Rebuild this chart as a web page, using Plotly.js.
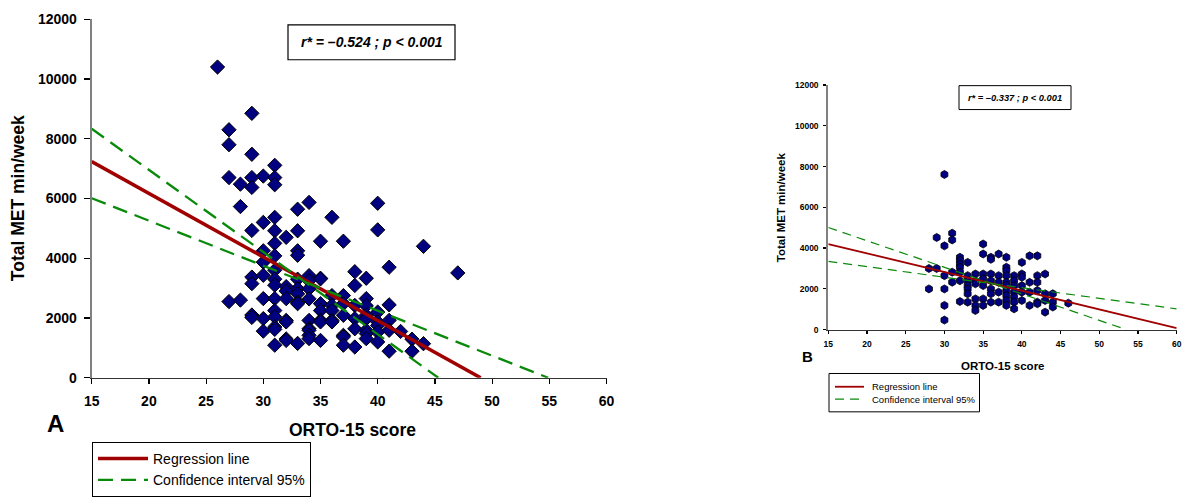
<!DOCTYPE html>
<html>
<head>
<meta charset="utf-8">
<script src="https://cdn.plot.ly/plotly-3.0.1.min.js"></script>
<style>html,body{margin:0;padding:0;background:#fff;}#chart{width:1184px;height:497px;}</style>
</head>
<body>
<div id="chart"></div>
<script>
// ---------- Panel A data (ORTO-15 score vs Total MET min/week) ----------
const scoresA = [26, 27, 28, 29, 30, 31, 32, 33, 34, 35, 36, 37, 38, 39, 40, 41, 42, 43, 44, 47];
const metA = [
  [10400],
  [8300, 7800, 6700, 2550],
  [6480, 5730, 2600],
  [8850, 7480, 6700, 6370, 4930, 3370, 3150, 2100, 2020],
  [6750, 5200, 4250, 3870, 3430, 2650, 1980, 1560],
  [7110, 6700, 6460, 5370, 4920, 4500, 4080, 3600, 3300, 3100, 2650, 2250, 2040, 1700, 1620, 1090],
  [4700, 3050, 2900, 2650, 1920, 1870, 1300, 1250],
  [5640, 4920, 4250, 4100, 3300, 2980, 2810, 2530, 2480, 1150],
  [5870, 3420, 3250, 2980, 2640, 1920, 1640, 1590, 1420, 1310],
  [4570, 3330, 3310, 2480, 2250, 1920, 1870, 1250],
  [5370, 2750, 2420, 2250, 1920, 1870],
  [4570, 2750, 2480, 2090, 1420, 1370, 1090],
  [3550, 3090, 2420, 1980, 1640, 1030],
  [3330, 2650, 2410, 2090, 1980, 1590, 1480, 1310],
  [5840, 4950, 2200, 1870, 1750, 1530, 1200],
  [3700, 2440, 1920, 1590, 890],
  [1550],
  [1290, 890],
  [4400, 1140],
  [3510]
];
const regA_x = [15, 49], regA_y = [7233, 0];
const ciA1_x = [15, 45.3], ciA1_y = [8333, 0];
const ciA2_x = [15, 54.9], ciA2_y = [6010, 0];

// ---------- Panel B data ----------
const scoresB = [28, 29, 30, 31, 32, 33, 34, 35, 36, 37, 38, 39, 40, 41, 42, 43, 44, 46];
const metB = [
  [3000, 2000],
  [4520, 3000],
  [7610, 4110, 2650, 2000, 1190, 470],
  [4730, 4400, 2820, 2330],
  [3550, 3400, 3220, 3060, 2820, 2400, 1380],
  [3300, 2650, 2400, 2160, 2000, 1760, 1350],
  [2730, 2400, 2250, 1510, 1190, 940],
  [4200, 3710, 2730, 2490, 2160, 1510, 1190],
  [3550, 3450, 2730, 2400, 2000, 1760, 1350],
  [3710, 2650, 2320, 1840, 1350],
  [3550, 3060, 2900, 2650, 2320, 2160, 1920, 1680, 1430, 1190],
  [2650, 2400, 2160, 1840, 1590, 1350, 1020],
  [3300, 2730, 2570, 2160, 1840, 1430],
  [3620, 2320, 1840, 1190],
  [3620, 2650, 2320, 1920, 1350, 1270],
  [2730, 1760, 1430, 860],
  [1760, 1350, 1110],
  [1300]
];
const regB_x = [15, 60], regB_y = [4200, 80];
const ciB1_x = [15, 53.5], ciB1_y = [5010, 0];
const ciB2_x = [15, 60], ciB2_y = [3350, 1020];

const xTicks = [15, 20, 25, 30, 35, 40, 45, 50, 55, 60];
const yTicks = [0, 2000, 4000, 6000, 8000, 10000, 12000];
const legendLabels = ['Regression line', 'Confidence interval 95%'];

function flatten(scores, groups) {
  const xs = [], ys = [];
  scores.forEach((s, i) => groups[i].forEach(v => { xs.push(s); ys.push(v); }));
  return {xs, ys};
}
const A = flatten(scoresA, metA);
const B = flatten(scoresB, metB);

const W = 1184, H = 497;
const px = v => v / W, py = v => 1 - v / H;

const RED = '#a00000', GREEN = '#0a8a0a', NAVY = '#000080';
const FONT = 'Arial, "Liberation Sans", Helvetica, sans-serif';

const traces = [
  {x: A.xs, y: A.ys, type: 'scatter', mode: 'markers', xaxis: 'x', yaxis: 'y', showlegend: false,
   marker: {symbol: 'diamond', size: 11, color: NAVY, line: {color: '#000', width: 1}}},
  {x: regA_x, y: regA_y, type: 'scatter', mode: 'lines', name: legendLabels[0], xaxis: 'x', yaxis: 'y',
   legend: 'legend', line: {color: RED, width: 3.5}},
  {x: ciA1_x, y: ciA1_y, type: 'scatter', mode: 'lines', name: legendLabels[1], xaxis: 'x', yaxis: 'y',
   legend: 'legend', line: {color: GREEN, width: 2.3, dash: '15px,8px'}},
  {x: ciA2_x, y: ciA2_y, type: 'scatter', mode: 'lines', showlegend: false, xaxis: 'x', yaxis: 'y',
   line: {color: GREEN, width: 2.3, dash: '15px,8px'}},

  {x: B.xs, y: B.ys, type: 'scatter', mode: 'markers', xaxis: 'x2', yaxis: 'y2', showlegend: false,
   marker: {symbol: 'hexagon', size: 8, color: NAVY, line: {color: '#000', width: 0.8}}},
  {x: regB_x, y: regB_y, type: 'scatter', mode: 'lines', showlegend: false, xaxis: 'x2', yaxis: 'y2',
   line: {color: RED, width: 1.8}},
  {x: ciB1_x, y: ciB1_y, type: 'scatter', mode: 'lines', showlegend: false, xaxis: 'x2', yaxis: 'y2',
   line: {color: GREEN, width: 1.2, dash: '9px,6px'}},
  {x: ciB2_x, y: ciB2_y, type: 'scatter', mode: 'lines', showlegend: false, xaxis: 'x2', yaxis: 'y2',
   line: {color: GREEN, width: 1.2, dash: '9px,6px'}}
];

function xAx(domain, size, anchor, standoff) {
  return {domain, range: [15, 60], tickvals: xTicks, ticktext: xTicks.map(String), anchor,
    showgrid: false, zeroline: false, showline: true, linecolor: '#333', linewidth: 1.5,
    ticks: 'outside', ticklen: size > 10 ? 5 : 3, tickcolor: '#000', tickwidth: 1.2,
    ticklabelstandoff: standoff,
    tickfont: {family: FONT, size: size, color: '#000', weight: 'bold'}, fixedrange: true};
}
function yAx(domain, size, anchor, standoff) {
  return {domain, range: [0, 12000], tickvals: yTicks, ticktext: yTicks.map(String), anchor,
    showgrid: false, zeroline: false, showline: true, linecolor: '#808080', linewidth: 2,
    ticks: 'outside', ticklen: size > 10 ? 6 : 3, tickcolor: '#000', tickwidth: 1.2,
    ticklabelstandoff: standoff,
    tickfont: {family: FONT, size: size, color: '#000', weight: 'bold'}, fixedrange: true};
}

const ann = (x, y, text, size, extra) => Object.assign({xref: 'paper', yref: 'paper', x: px(x), y: py(y),
  xanchor: 'center', yanchor: 'middle', showarrow: false, text, font: {family: FONT, size, color: '#000'}}, extra || {});

const layout = {
  width: W, height: H,
  margin: {l: 0, r: 0, t: 0, b: 0},
  paper_bgcolor: '#fff', plot_bgcolor: 'rgba(0,0,0,0)',
  font: {family: FONT, color: '#000'},
  xaxis: xAx([px(91.7), px(606.5)], 14, 'y', 5),
  yaxis: yAx([py(379.3), py(19.3)], 14, 'x', 4),
  xaxis2: xAx([px(828.3), px(1176.7)], 8.5, 'y2', 3),
  yaxis2: yAx([py(331), py(85.3)], 8.5, 'x2', 3),
  legend: {x: px(92), y: py(444), xanchor: 'left', yanchor: 'top', bgcolor: '#fff',
    bordercolor: '#000', borderwidth: 1, font: {family: FONT, size: 14, color: '#000'},
    traceorder: 'normal', itemwidth: 50, tracegroupgap: 0},
  shapes: [
    {type: 'rect', xref: 'paper', yref: 'paper', x0: px(288), x1: px(455), y0: py(60), y1: py(25),
     line: {color: '#000', width: 1.2}, fillcolor: '#fff', layer: 'below'},
    {type: 'rect', xref: 'paper', yref: 'paper', x0: px(959), x1: px(1071), y0: py(110), y1: py(86),
     line: {color: '#000', width: 1}, fillcolor: '#fff', layer: 'below'},
    // legend box for panel B
    {type: 'rect', xref: 'paper', yref: 'paper', x0: px(829), x1: px(979.5), y0: py(413.5), y1: py(375),
     line: {color: '#000', width: 1}, fillcolor: '#fff', layer: 'above'},
    {type: 'line', xref: 'paper', yref: 'paper', x0: px(835), x1: px(864), y0: py(388.3), y1: py(388.3),
     line: {color: RED, width: 1.8}, layer: 'above'},
    {type: 'line', xref: 'paper', yref: 'paper', x0: px(835), x1: px(864), y0: py(400.8), y1: py(400.8),
     line: {color: GREEN, width: 1.2, dash: '9px,6px'}, layer: 'above'}
  ],
  annotations: [
    ann(371.5, 42.5, '<b><i>r* = –0.524 ; p &lt; 0.001</i></b>', 14),
    ann(1015, 98, '<b><i>r* = –0.337 ; p &lt; 0.001</i></b>', 9.3),
    ann(18, 199, '<b>Total MET min/week</b>', 17.5, {textangle: -90}),
    ann(352, 432, '<b>ORTO-15 score</b>', 17.5),
    ann(55, 425, '<b>A</b>', 24),
    ann(781, 208, '<b>Total MET min/week</b>', 11.5, {textangle: -90}),
    ann(1003, 367, '<b>ORTO-15 score</b>', 11.5),
    ann(807, 358, '<b>B</b>', 15),
    ann(870, 388.3, legendLabels[0], 9.5, {xanchor: 'left'}),
    ann(870, 400.8, legendLabels[1], 9.5, {xanchor: 'left'})
  ]
};

Plotly.newPlot('chart', traces, layout, {displayModeBar: false, staticPlot: true});
</script>
</body>
</html>
